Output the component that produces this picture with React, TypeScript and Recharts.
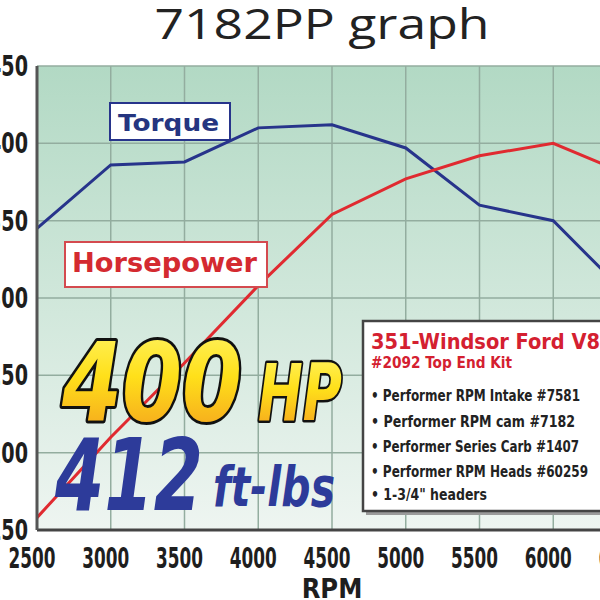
import { CartesianGrid, Line, LineChart, XAxis, YAxis } from "recharts"

const rpm = [2500, 3000, 3500, 4000, 4500, 5000, 5500, 6000, 6500]
const torque = [345, 386, 388, 410, 412, 397, 360, 350, 302]
const horsepower = [158, 210, 258, 308, 354, 377, 392, 400, 380]
const rpmTicks = [2500, 3000, 3500, 4000, 4500, 5000, 5500, 6000, 6500]
const powerTicks = [150, 200, 250, 300, 350, 400, 450]
const kitLines = [
  "• Performer RPM Intake #7581",
  "• Performer RPM cam #7182",
  "• Performer Series Carb #1407",
  "• Performer RPM Heads #60259",
  "• 1-3/4\" headers",
]

const data = rpm.map((r, i) => ({ rpm: r, torque: torque[i], hp: horsepower[i] }))

const narrow = '"Liberation Sans Narrow", "DejaVu Sans Condensed", sans-serif'
const heavy = '"DejaVu Sans", sans-serif'

// tick labels squeezed to the tall, narrow look of the original
function RpmTick({ x, y, payload }: any) {
  return (
    <text x={x - 5} y={y} dy="0.71em" textAnchor="middle" fill="#1e1e1e" fontSize={28} fontWeight={700} fontFamily={narrow} textLength={47} lengthAdjust="spacingAndGlyphs">
      {payload.value}
    </text>
  )
}

function PowerTick({ x, y, payload }: any) {
  return (
    <text x={x - 1} y={y} dy="0.355em" textAnchor="end" fill="#1e1e1e" fontSize={28} fontWeight={700} fontFamily={narrow} textLength={40} lengthAdjust="spacingAndGlyphs">
      {payload.value}
    </text>
  )
}

export default function App() {
  const lineY = [401, 427, 452, 477, 500]
  const lineW = [209, 204, 208, 217, 116]
  return (
    <div style={{ position: "absolute", left: 0, top: 0, width: 600, height: 600, overflow: "hidden", background: "#fff" }}>
      <LineChart width={680} height={600} data={data} margin={{ top: 66, right: 53, left: 0, bottom: 0 }}>
        <defs>
          <linearGradient id="plotBg" x1="0" y1="0" x2="0" y2="1">
            <stop offset="0%" stopColor="#b2d9c4" />
            <stop offset="100%" stopColor="#eef5f1" />
          </linearGradient>
        </defs>
        <CartesianGrid fill="url(#plotBg)" stroke="#93ad9f" strokeWidth={1.5} />
        <XAxis
          dataKey="rpm"
          type="number"
          domain={[2500, 6500]}
          ticks={rpmTicks}
          height={70}
          tickLine={false}
          tickMargin={12}
          interval={0}
          axisLine={{ stroke: "#444", strokeWidth: 3 }}
          tick={<RpmTick />}
          label={{ value: "RPM", position: "insideBottom", offset: 2, fill: "#1e1e1e", fontSize: 27, fontWeight: 700, fontFamily: narrow }}
        />
        <YAxis
          type="number"
          domain={[150, 450]}
          ticks={powerTicks}
          width={37}
          tickLine={false}
          interval={0}
          axisLine={{ stroke: "#555", strokeWidth: 3 }}
          tick={<PowerTick />}
        />
        <Line type="linear" dataKey="torque" stroke="#27348b" strokeWidth={3} dot={false} isAnimationActive={false} />
        <Line type="linear" dataKey="hp" stroke="#e02a30" strokeWidth={3} dot={false} isAnimationActive={false} />
      </LineChart>

      <svg width={600} height={600} style={{ position: "absolute", left: 0, top: 0 }}>
        <defs>
          <linearGradient id="gold" x1="0" y1="0" x2="0" y2="1">
            <stop offset="0%" stopColor="#fff56a" />
            <stop offset="45%" stopColor="#ffe01a" />
            <stop offset="100%" stopColor="#f39a1e" />
          </linearGradient>
        </defs>

        <text x={322} y={39} textAnchor="middle" fontSize={42} fontFamily='"Open Sans", sans-serif' fill="#222" textLength={335} lengthAdjust="spacingAndGlyphs">
          7182PP graph
        </text>

        <rect x={110} y={103} width={120} height={37} fill="#fff" stroke="#27348b" strokeWidth={2} />
        <text x={118} y={131} fontSize={23} fontWeight={700} fontFamily={heavy} fill="#253580" textLength={101} lengthAdjust="spacingAndGlyphs">
          Torque
        </text>

        <rect x={65} y={242} width={202} height={45} fill="#fff" stroke="#d44a4f" strokeWidth={2} />
        <text x={72} y={272} fontSize={27} fontWeight={700} fontFamily={heavy} fill="#d42a30" textLength={185} lengthAdjust="spacingAndGlyphs">
          Horsepower
        </text>

        <g fontFamily={heavy} fontWeight={900} fontStyle="italic">
          <text x={62} y={420} fontSize={108} fill="url(#gold)" stroke="#111" strokeWidth={6} strokeLinejoin="round" paintOrder="stroke" textLength={180} lengthAdjust="spacingAndGlyphs">
            400
          </text>
          <text x={258} y={420} fontSize={78} fill="url(#gold)" stroke="#111" strokeWidth={5} strokeLinejoin="round" paintOrder="stroke" textLength={84} lengthAdjust="spacingAndGlyphs">
            HP
          </text>
          <text x={55} y={510} fontSize={100} fill="#2d3b9a" textLength={148} lengthAdjust="spacingAndGlyphs">
            412
          </text>
          <text x={213} y={506} fontSize={56} fill="#2d3b9a" textLength={122} lengthAdjust="spacingAndGlyphs">
            ft-lbs
          </text>
        </g>

        <rect x={366} y={324} width={260} height={191} fill="#9a9a9a" />
        <rect x={363} y={321} width={260} height={190} fill="#fff" stroke="#444" strokeWidth={2.5} />
        <text x={371} y={349} fontSize={22} fontWeight={700} fontFamily={narrow} fill="#d42030" textLength={229} lengthAdjust="spacingAndGlyphs">
          351-Windsor Ford V8
        </text>
        <text x={371} y={368} fontSize={15} fontWeight={700} fontFamily={narrow} fill="#d42030" textLength={141} lengthAdjust="spacingAndGlyphs">
          #2092 Top End Kit
        </text>
        {kitLines.map((t, i) => (
          <text key={t} x={371} y={lineY[i]} fontSize={15} fontWeight={600} fontFamily={narrow} fill="#222" textLength={lineW[i]} lengthAdjust="spacingAndGlyphs">
            {t}
          </text>
        ))}
      </svg>
    </div>
  )
}
